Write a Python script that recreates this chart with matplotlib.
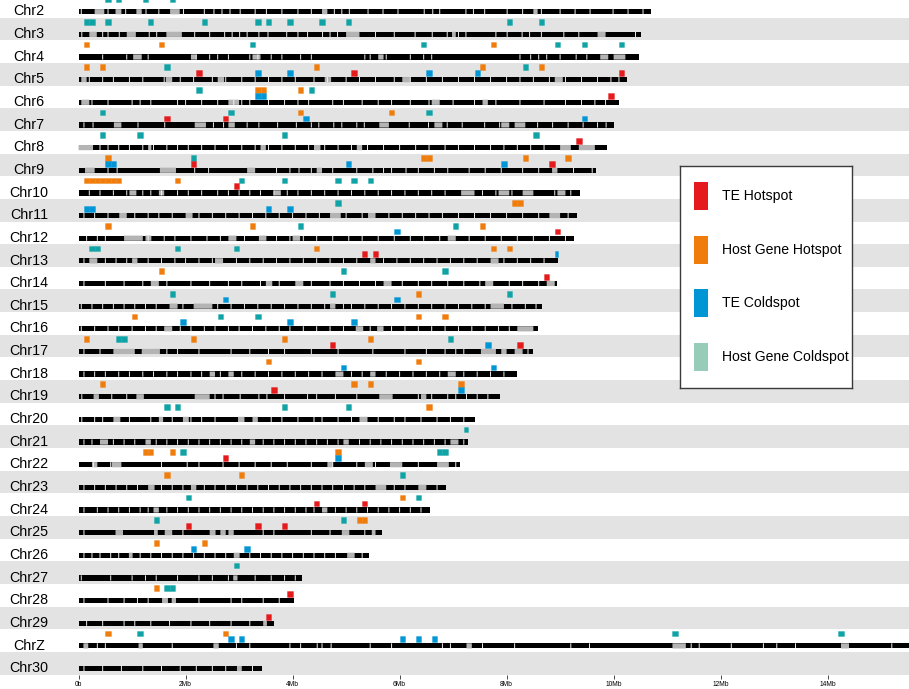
import matplotlib.pyplot as plt
from matplotlib.patches import Rectangle
from matplotlib.colors import to_rgba

# chromosomes, top to bottom, and their lengths in Mb
chroms = ['Chr2', 'Chr3', 'Chr4', 'Chr5', 'Chr6', 'Chr7', 'Chr8', 'Chr9', 'Chr10',
          'Chr11', 'Chr12', 'Chr13', 'Chr14', 'Chr15', 'Chr16', 'Chr17', 'Chr18',
          'Chr19', 'Chr20', 'Chr21', 'Chr22', 'Chr23', 'Chr24', 'Chr25', 'Chr26',
          'Chr27', 'Chr28', 'Chr29', 'ChrZ', 'Chr30']
chrom_len = [10.69, 10.51, 10.48, 10.25, 10.10, 10.00, 9.87, 9.67, 9.37,
             9.32, 9.26, 8.96, 8.94, 8.66, 8.59, 8.49, 8.20,
             7.88, 7.40, 7.28, 7.13, 6.86, 6.56, 5.68, 5.42,
             4.18, 4.03, 3.65, 16.20, 3.43]

# 100 kb windows (start, Mb)
host_hot = {
    'Chr4': [0.1, 1.5, 7.7],
    'Chr5': [0.1, 0.4, 4.4, 7.5, 8.6],
    'Chr6': [3.3, 3.4, 4.1],
    'Chr7': [4.1, 5.8],
    'Chr9': [0.5, 6.4, 6.5, 8.3, 9.1],
    'Chr10': [0.1, 0.2, 0.3, 0.4, 0.5, 0.6, 0.7, 1.8],
    'Chr11': [8.1, 8.2],
    'Chr12': [0.5, 3.2, 7.5],
    'Chr13': [4.4, 7.7, 8.0],
    'Chr14': [1.5],
    'Chr15': [6.3],
    'Chr16': [1.0, 6.3, 6.8],
    'Chr17': [0.1, 2.1, 3.8, 5.4],
    'Chr18': [3.5, 6.3],
    'Chr19': [0.4, 5.1, 5.4, 7.1],
    'Chr20': [6.5],
    'Chr22': [1.2, 1.3, 1.7, 4.8],
    'Chr23': [1.6, 3.0],
    'Chr24': [6.0],
    'Chr25': [5.2, 5.3],
    'Chr26': [1.4, 2.3],
    'Chr28': [1.4],
    'ChrZ': [0.5, 2.7],
}
host_cold = {
    'Chr2': [0.5, 0.7, 1.2, 1.7],
    'Chr3': [0.1, 0.2, 0.5, 1.3, 2.3, 3.3, 3.5, 3.9, 4.5, 5.0, 8.0, 8.6],
    'Chr4': [3.2, 6.4, 8.9, 9.4, 10.1],
    'Chr5': [1.6, 8.3],
    'Chr6': [2.2, 4.3],
    'Chr7': [0.4, 2.8, 6.5],
    'Chr8': [0.4, 1.1, 3.8, 8.5],
    'Chr9': [2.1],
    'Chr10': [3.0, 3.8, 4.8, 5.1, 5.4],
    'Chr11': [4.8],
    'Chr12': [4.1, 7.0],
    'Chr13': [0.2, 0.3, 1.8, 2.9],
    'Chr14': [4.9, 6.8],
    'Chr15': [1.7, 4.7, 8.0],
    'Chr16': [2.6, 3.3],
    'Chr17': [0.7, 0.8, 6.9],
    'Chr20': [1.6, 1.8, 3.8, 5.0],
    'Chr21': [7.2],
    'Chr22': [1.9, 6.7, 6.8],
    'Chr23': [6.0],
    'Chr24': [2.0, 6.3],
    'Chr25': [1.4, 4.9],
    'Chr27': [2.9],
    'Chr28': [1.6, 1.7],
    'ChrZ': [1.1, 11.1, 14.2],
}
te_hot = {
    'Chr5': [2.2, 5.1, 10.1],
    'Chr6': [9.9],
    'Chr7': [1.6, 2.7],
    'Chr8': [9.3],
    'Chr9': [2.1, 8.8],
    'Chr10': [2.9],
    'Chr12': [8.9],
    'Chr13': [5.3, 5.5],
    'Chr14': [8.7],
    'Chr17': [4.7, 8.2],
    'Chr19': [3.6],
    'Chr22': [2.7],
    'Chr24': [4.4, 5.3],
    'Chr25': [2.0, 3.3, 3.8],
    'Chr28': [3.9],
    'Chr29': [3.5],
}
te_cold = {
    'Chr5': [3.3, 3.9, 6.5, 7.4],
    'Chr6': [3.3, 3.4],
    'Chr7': [4.2, 9.4],
    'Chr9': [0.5, 0.6, 5.0, 7.9],
    'Chr11': [0.1, 0.2, 3.5, 3.9],
    'Chr12': [5.9],
    'Chr13': [8.9],
    'Chr15': [2.7, 5.9],
    'Chr16': [1.9, 3.9, 5.1],
    'Chr17': [7.6],
    'Chr18': [4.9, 7.7],
    'Chr19': [7.1],
    'Chr22': [4.8],
    'Chr26': [2.1, 3.1],
    'ChrZ': [2.8, 3.0, 6.0, 6.3, 6.6],
}

# light stripes in the chromosome ideograms (Mb)
stripe_thin = {
    'Chr2': [0.05, 0.55, 0.88, 1.26, 1.50, 1.96, 2.35, 2.53, 2.68, 2.83, 3.02, 3.30, 3.51, 3.80, 4.10, 4.35,
             4.78, 4.92, 5.06, 5.41, 5.69, 5.97, 6.46, 6.62, 6.75, 7.24, 7.38, 7.59, 8.01, 8.30, 8.65, 9.00,
             9.28, 9.56, 9.99, 10.27, 10.55],
    'Chr3': [0.06, 0.45, 0.55, 0.76, 1.32, 1.46, 2.17, 2.45, 2.73, 2.87, 3.01, 3.15, 3.37, 3.54, 3.89, 4.10,
             4.28, 4.56, 4.70, 4.84, 5.55, 5.90, 6.29, 6.61, 6.89, 7.10, 7.24, 7.80, 8.01, 8.29, 8.43, 8.65,
             9.07, 9.35, 10.41],
    'Chr4': [0.45, 0.90, 1.30, 2.20, 2.45, 2.60, 2.80, 3.20, 3.35, 3.60, 3.80, 4.15, 4.35, 5.35, 5.45, 5.75,
             6.20, 6.45, 6.60, 8.25, 8.45, 8.60, 8.75, 9.00, 9.30, 9.50],
    'Chr5': [0.20, 0.45, 0.65, 0.95, 1.20, 1.60, 1.90, 2.15, 2.50, 2.75, 3.05, 3.30, 3.55, 3.80, 4.05, 4.40,
             4.65, 5.00, 5.25, 5.55, 5.90, 6.20, 6.50, 6.80, 7.10, 7.40, 7.70, 8.00, 8.25, 8.50, 8.80, 9.10,
             9.40, 9.70, 9.95, 10.10],
    'Chr6': [0.25, 0.55, 1.00, 1.15, 1.35, 1.85, 2.00, 2.30, 2.60, 2.90, 3.05, 3.20, 3.55, 3.85, 4.10, 4.30,
             4.75, 4.95, 5.30, 5.60, 5.85, 6.20, 6.55, 7.00, 7.40, 7.80, 8.25, 8.70, 9.10, 9.40, 9.65, 9.85],
    'Chr7': [0.10, 0.27, 1.11, 1.61, 2.52, 2.71, 3.15, 3.37, 3.72, 4.07, 4.35, 4.49, 4.77, 4.92, 5.20, 5.34,
             6.18, 6.54, 6.89, 7.17, 7.59, 7.87, 8.58, 8.86, 9.15, 9.43, 9.70, 9.86],
    'Chr8': [0.40, 0.55, 0.75, 0.95, 1.20, 1.40, 1.65, 1.85, 2.05, 2.30, 2.55, 2.80, 3.05, 3.30, 3.55, 3.80,
             4.05, 4.30, 4.60, 4.85, 5.10, 5.40, 5.70, 6.00, 6.30, 6.55, 6.85, 7.10, 7.40, 7.70, 7.95, 8.20,
             8.45, 8.70],
    'Chr9': [0.55, 0.72, 2.17, 2.43, 3.70, 3.95, 4.12, 4.35, 4.75, 5.20, 5.50, 5.70, 5.85, 6.12, 6.35, 6.65,
             6.90, 7.30, 7.60, 7.90, 8.30, 8.60, 9.25, 9.60],
    'Chr10': [0.20, 0.40, 0.65, 0.90, 1.20, 1.35, 1.55, 1.85, 2.05, 2.30, 2.60, 2.80, 3.00, 3.20, 3.40, 3.65,
              3.90, 4.10, 4.35, 4.60, 4.85, 5.10, 5.35, 5.60, 5.85, 6.10, 6.35, 6.60, 6.85, 7.55, 7.80, 8.10,
              8.90, 9.20],
    'Chr11': [0.10, 0.30, 0.55, 1.05, 1.30, 1.50, 1.75, 2.25, 2.50, 2.75, 3.00, 3.25, 3.50, 3.75, 4.00, 4.25,
              4.50, 5.00, 5.30, 5.80, 6.05, 6.30, 6.55, 6.80, 7.10, 7.40, 7.70, 8.00, 8.30, 8.60, 9.15],
    'Chr12': [0.15, 0.35, 0.50, 1.30, 1.60, 1.80, 2.10, 2.40, 2.65, 3.10, 3.70, 3.95, 4.20, 4.45, 4.75, 5.05,
              5.30, 5.60, 5.90, 6.20, 6.45, 6.75, 7.30, 7.60, 7.90, 8.20, 8.50, 8.80, 9.10],
    'Chr13': [0.10, 0.50, 0.70, 0.90, 1.30, 1.55, 1.80, 2.00, 2.25, 2.50, 2.95, 3.20, 3.45, 3.70, 3.95, 4.20,
              4.45, 4.70, 4.95, 5.20, 5.70, 5.95, 6.20, 6.45, 6.70, 6.95, 7.20, 7.45, 7.95, 8.20, 8.45, 8.70],
    'Chr14': [0.10, 0.50, 0.85, 1.20, 1.65, 2.10, 2.45, 2.80, 3.05, 3.40, 3.75, 4.35, 4.70, 4.95, 5.25, 5.55,
              6.05, 6.35, 6.60, 6.90, 7.20, 7.50, 8.05, 8.30, 8.60],
    'Chr15': [0.05, 0.25, 0.45, 0.65, 0.85, 1.05, 1.25, 1.45, 1.95, 2.60, 2.85, 3.10, 3.35, 3.60, 3.85, 4.10,
              4.35, 4.60, 4.95, 5.10, 5.35, 5.60, 5.85, 6.10, 6.35, 6.60, 6.85, 7.10, 7.35, 7.60, 8.10, 8.35,
              8.55],
    'Chr16': [0.05, 0.30, 0.55, 0.75, 1.00, 1.25, 1.45, 1.90, 2.10, 2.35, 2.55, 2.80, 3.00, 3.25, 3.50, 3.75,
              3.95, 4.20, 4.45, 4.70, 4.95, 5.45, 5.85, 6.10, 6.35, 6.60, 6.85, 7.10, 7.35, 7.60, 7.85, 8.05],
    'Chr17': [0.10, 0.40, 1.65, 1.85, 2.25, 2.85, 3.20, 3.55, 3.85, 4.35, 4.85, 5.50, 6.10, 6.50, 6.85, 7.05,
              7.20, 8.40],
    'Chr18': [0.10, 0.30, 0.50, 0.75, 0.95, 1.20, 1.40, 1.65, 1.85, 2.10, 2.30, 2.65, 3.05, 3.30, 3.55, 3.80,
              4.05, 4.30, 4.55, 5.10, 5.30, 5.75, 6.00, 6.25, 6.50, 6.75, 7.20, 7.45, 7.70, 7.95],
    'Chr19': [0.06, 0.62, 0.90, 2.55, 2.70, 3.02, 3.37, 3.52, 3.85, 4.28, 4.45, 4.80, 5.20, 6.35, 6.60, 6.90,
              7.05, 7.25, 7.45, 7.65],
    'Chr20': [0.06, 0.30, 0.45, 0.95, 1.35, 1.75, 2.10, 2.30, 2.55, 3.60, 3.80, 4.10, 4.40, 4.55, 4.85, 5.10,
              5.60, 5.90, 6.10, 6.40, 6.70, 6.95, 7.20],
    'Chr21': [0.10, 0.25, 0.65, 0.85, 1.05, 1.45, 1.65, 1.85, 2.05, 2.25, 2.45, 2.65, 2.85, 3.05, 3.45, 3.65,
              3.85, 4.05, 4.25, 4.45, 4.65, 4.85, 5.25, 5.45, 5.65, 5.85, 6.05, 6.25, 6.45, 6.65, 6.85, 7.20],
    'Chr22': [0.28, 0.60, 1.55, 2.03, 2.25, 2.70, 3.00, 3.30, 3.60, 3.90, 4.35, 4.75, 5.20, 5.55, 6.35, 7.05],
    'Chr23': [0.10, 0.30, 0.50, 0.70, 0.90, 1.10, 1.55, 1.75, 1.95, 2.35, 2.55, 2.75, 2.95, 3.15, 3.35, 3.55,
              3.75, 3.95, 4.15, 4.35, 4.55, 4.75, 4.95, 5.15, 5.35, 5.90, 6.10, 6.70],
    'Chr24': [0.10, 0.35, 0.55, 0.75, 0.95, 1.15, 1.30, 1.65, 1.85, 2.05, 2.25, 2.45, 2.65, 2.85, 3.05, 3.25,
              3.45, 3.65, 3.85, 4.05, 4.25, 4.40, 4.80, 5.00, 5.20, 5.40, 5.60, 5.80, 6.00, 6.20, 6.40],
    'Chr25': [0.10, 1.95, 3.45, 3.65, 4.35, 4.70, 5.35],
    'Chr26': [0.10, 0.25, 0.40, 0.60, 0.75, 1.15, 1.35, 1.55, 1.75, 1.95, 2.15, 2.35, 2.55, 2.75, 3.20, 3.40,
              3.60, 3.80, 4.00, 4.20, 4.40, 4.60, 4.80, 5.30],
    'Chr27': [0.05, 0.60, 1.00, 1.25, 1.45, 1.85, 2.25, 2.50, 2.80, 3.30, 3.60, 3.85, 4.05],
    'Chr28': [0.10, 0.55, 0.85, 1.10, 1.30, 2.25, 2.85, 3.05, 3.45, 3.75],
    'Chr29': [0.15, 0.45, 0.85, 1.05, 1.35, 1.70, 2.10, 2.45, 2.85, 3.20],
    'ChrZ': [0.35, 0.50, 1.75, 2.95, 3.20, 3.95, 4.15, 4.46, 4.55, 4.72, 5.45, 5.85, 6.80, 6.95, 7.55, 8.15,
             9.20, 9.55, 11.45, 11.60, 12.20, 12.80, 13.05, 13.40, 15.20],
    'Chr30': [0.10, 0.45, 0.80, 1.20, 1.55, 1.90, 2.20, 2.50, 2.75, 3.25],
}
stripe_wide = {
    'Chr2': [(0.30, 0.48), (0.69, 0.80), (1.08, 1.18), (1.71, 1.89), (4.55, 4.65), (8.50, 8.58)],
    'Chr3': [(0.20, 0.34), (0.90, 1.07), (1.64, 1.93), (5.00, 5.25), (6.98, 7.05), (9.70, 9.85)],
    'Chr4': [(1.02, 1.18), (2.10, 2.20), (3.25, 3.40), (5.60, 5.70), (9.75, 9.90), (10.00, 10.22)],
    'Chr5': [(0.05, 0.15), (1.63, 1.75), (2.60, 2.72), (4.60, 4.72), (6.05, 6.20), (8.90, 9.05)],
    'Chr6': [(0.05, 0.20), (2.80, 3.00), (6.60, 6.75), (7.55, 7.65)],
    'Chr7': [(0.66, 0.80), (2.17, 2.38), (2.80, 2.92), (5.62, 5.80), (6.65, 6.80), (7.90, 8.05), (8.15, 8.35)],
    'Chr8': [(0.00, 0.27), (1.30, 1.36), (3.40, 3.50), (4.40, 4.52), (5.20, 5.30), (9.00, 9.20), (9.35, 9.65)],
    'Chr9': [(0.12, 0.30), (1.52, 1.82), (3.15, 3.30), (4.45, 4.55), (8.85, 8.95)],
    'Chr10': [(0.95, 1.08), (1.50, 1.60), (3.65, 3.78), (7.15, 7.40), (7.85, 8.05), (8.30, 8.50), (8.95, 9.10)],
    'Chr11': [(0.76, 0.90), (2.00, 2.13), (4.70, 4.90), (5.41, 5.55), (8.80, 9.00)],
    'Chr12': [(0.85, 1.20), (1.25, 1.36), (2.80, 2.95), (3.37, 3.51), (4.00, 4.14), (6.90, 7.05)],
    'Chr13': [(0.20, 0.35), (1.00, 1.10), (2.55, 2.70), (5.45, 5.55), (7.70, 7.85)],
    'Chr14': [(1.35, 1.50), (3.50, 3.62), (4.05, 4.20), (5.70, 5.85), (7.60, 7.75), (8.75, 8.90)],
    'Chr15': [(1.70, 1.85), (2.15, 2.50), (4.70, 4.80), (7.70, 7.95)],
    'Chr16': [(1.60, 1.75), (5.18, 5.32), (5.58, 5.70), (8.20, 8.50)],
    'Chr17': [(0.65, 1.05), (1.18, 1.52), (7.52, 7.80), (7.90, 8.00), (8.15, 8.30)],
    'Chr18': [(2.45, 2.55), (2.80, 2.90), (4.80, 4.95), (5.45, 5.55), (6.90, 7.05)],
    'Chr19': [(0.28, 0.38), (1.08, 1.22), (2.17, 2.45), (5.62, 5.87), (6.40, 6.50)],
    'Chr20': [(0.65, 0.78), (1.50, 1.58), (1.95, 2.06), (2.98, 3.10), (3.25, 3.35), (5.25, 5.40)],
    'Chr21': [(0.40, 0.55), (1.25, 1.35), (3.20, 3.30), (4.95, 5.05), (6.95, 7.10)],
    'Chr22': [(0.25, 0.35), (0.62, 0.80), (4.65, 4.75), (5.35, 5.50), (5.82, 6.05), (6.70, 6.92)],
    'Chr23': [(1.30, 1.42), (2.10, 2.20), (5.55, 5.75), (6.35, 6.50)],
    'Chr24': [(1.40, 1.50), (4.55, 4.65)],
    'Chr25': [(0.69, 0.83), (1.41, 1.48), (1.61, 1.75), (2.45, 2.56), (2.65, 2.75), (2.80, 2.90),
              (4.92, 5.06), (5.48, 5.55)],
    'Chr26': [(0.94, 1.01), (2.90, 3.01), (5.02, 5.16)],
    'Chr27': [(2.89, 2.97)],
    'Chr28': [(1.56, 1.67), (1.74, 1.82)],
    'Chr29': [(3.45, 3.52)],
    'ChrZ': [(0.09, 0.18), (1.12, 1.20), (2.52, 2.62), (7.25, 7.35), (11.10, 11.35), (14.25, 14.40)],
    'Chr30': [(2.96, 3.05)],
}

xticks = [0, 2, 4, 6, 8, 10, 12, 14]
xtick_labels = ['0b', '2Mb', '4Mb', '6Mb', '8Mb', '10Mb', '12Mb', '14Mb']

legend_labels = ['TE Hotspot', 'Host Gene Hotspot', 'TE Coldspot', 'Host Gene Coldspot']

RED = '#e41a1c'
ORANGE = '#f07c0c'
BLUE = '#0096d6'
TEAL = '#0fa3a6'
TEAL_KEY = '#96ccb8'

plt.rcParams['font.family'] = ['Liberation Sans', 'DejaVu Sans']

fig = plt.figure(figsize=(9.09, 6.89), dpi=100)
ax = fig.add_axes([0, 14 / 689, 1, 675 / 689])
px_per_mb = 53.5
ax.set_xlim(-78.6 / px_per_mb, (909 - 78.6) / px_per_mb)
ax.set_ylim(30.02, 0.2185)

WIN = 0.1
ROW_HOST = (0.06, 0.25)
ROW_TE = (0.32, 0.25)
BAR = (0.62, 0.23)


def draw_windows(i, starts, length, row, color):
    y0, h = row
    for s in starts:
        w = min(WIN, length - s)
        ax.add_patch(Rectangle((s, i + y0), w, h, facecolor=color,
                               edgecolor=to_rgba(color, 0.35), linewidth=0.7, zorder=4))


for i, (name, length) in enumerate(zip(chroms, chrom_len)):
    if i % 2 == 1:
        ax.axhspan(i, i + 1, color='#e3e3e3', lw=0, zorder=0)

    # ideogram bar with its light stripes
    ax.add_patch(Rectangle((0, i + BAR[0]), length, BAR[1], facecolor='black', lw=0, zorder=2))
    for a, b in stripe_wide.get(name, []):
        ax.add_patch(Rectangle((a, i + BAR[0]), b - a, BAR[1], facecolor='#b4b4b4', lw=0,
                               snap=False, zorder=3))
    for p in stripe_thin.get(name, []):
        ax.add_patch(Rectangle((p - 0.009, i + BAR[0]), 0.018, BAR[1], facecolor='#f2f2f2',
                               lw=0, snap=False, zorder=3))

    draw_windows(i, host_hot.get(name, []), length, ROW_HOST, ORANGE)
    draw_windows(i, host_cold.get(name, []), length, ROW_HOST, TEAL)
    draw_windows(i, te_hot.get(name, []), length, ROW_TE, RED)
    draw_windows(i, te_cold.get(name, []), length, ROW_TE, BLUE)

    ax.text(-0.927, i + 0.72, name, ha='center', va='center', fontsize=10.3, zorder=5)

for s in ax.spines.values():
    s.set_visible(False)
ax.set_yticks([])
ax.set_xticks(xticks)
ax.set_xticklabels(xtick_labels)
ax.tick_params(axis='x', length=3, width=0.5, pad=1.5, labelsize=4.8)

# legend box
lg = fig.add_axes([680 / 909, 1 - 388 / 689, 172 / 909, 222 / 689])
lg.set_xlim(680, 852)
lg.set_ylim(388, 166)
lg.set_xticks([])
lg.set_yticks([])
for s in lg.spines.values():
    s.set_color('#3a3a3a')
    s.set_linewidth(1.0)
for k, (lab, col) in enumerate(zip(legend_labels, [RED, ORANGE, BLUE, TEAL_KEY])):
    yc = 196 + 53.7 * k
    lg.add_patch(Rectangle((693.5, yc - 14), 14.5, 28, facecolor=col, lw=0))
    lg.text(722, yc, lab, ha='left', va='center', fontsize=10.1)

fig.savefig('out.png', dpi=100)
